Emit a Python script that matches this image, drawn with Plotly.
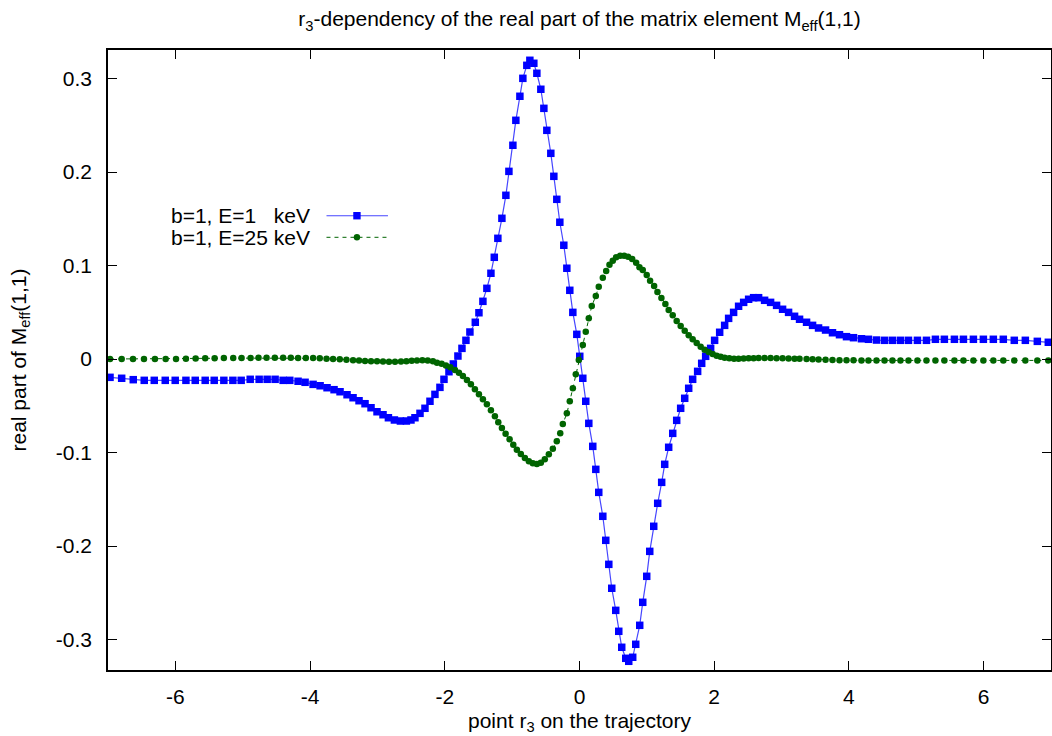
import plotly.graph_objects as go

# ---- data ----
r3_blue = [-6.970, -6.797, -6.625, -6.462, -6.313, -6.150, -6.002, -5.843, -5.705, -5.557,
           -5.423, -5.280, -5.146, -5.023, -4.889, -4.756, -4.637, -4.519, -4.400, -4.301,
           -4.178, -4.074, -3.955, -3.851, -3.748, -3.644, -3.555, -3.451, -3.362, -3.273,
           -3.184, -3.095, -3.006, -2.917, -2.837, -2.748, -2.659, -2.570, -2.502, -2.443,
           -2.368, -2.294, -2.220, -2.146, -2.072, -2.012, -1.938, -1.873, -1.805, -1.745,
           -1.686, -1.627, -1.547, -1.493, -1.434, -1.375, -1.315, -1.265, -1.212, -1.152,
           -1.093, -1.048, -0.989, -0.945, -0.885, -0.841, -0.782, -0.737, -0.678, -0.633,
           -0.574, -0.529, -0.485, -0.426, -0.381, -0.337, -0.292, -0.233, -0.188, -0.144,
           -0.099, -0.040, 0.004, 0.049, 0.093, 0.138, 0.197, 0.242, 0.286, 0.346,
           0.390, 0.435, 0.479, 0.538, 0.583, 0.627, 0.687, 0.731, 0.790, 0.835,
           0.894, 0.939, 0.998, 1.043, 1.102, 1.161, 1.220, 1.265, 1.324, 1.384,
           1.443, 1.502, 1.562, 1.621, 1.680, 1.754, 1.814, 1.873, 1.947, 2.006,
           2.081, 2.155, 2.214, 2.288, 2.362, 2.437, 2.511, 2.585, 2.659, 2.748,
           2.837, 2.926, 3.015, 3.104, 3.193, 3.267, 3.371, 3.460, 3.549, 3.653,
           3.756, 3.860, 3.964, 4.068, 4.186, 4.290, 4.409, 4.528, 4.646, 4.765,
           4.884, 5.017, 5.151, 5.284, 5.417, 5.566, 5.700, 5.848, 5.996, 6.144,
           6.292, 6.455, 6.619, 6.797, 6.960]

re_m_E1 = [-0.0196, -0.0206, -0.0221, -0.0228, -0.0228, -0.0228, -0.0228, -0.0228, -0.0228, -0.0228,
           -0.0228, -0.0228, -0.0228, -0.0228, -0.0217, -0.0217, -0.0217, -0.0217, -0.0228, -0.0228,
           -0.0238, -0.0249, -0.0271, -0.0286, -0.0307, -0.0328, -0.0350, -0.0382, -0.0414, -0.0446,
           -0.0478, -0.0521, -0.0564, -0.0596, -0.0628, -0.0652, -0.0663, -0.0663, -0.0652, -0.0628,
           -0.0581, -0.0527, -0.0452, -0.0378, -0.0303, -0.0217, -0.0136, -0.0053, 0.0032, 0.0114,
           0.0200, 0.0289, 0.0393, 0.0495, 0.0617, 0.0756, 0.0917, 0.1088, 0.1291, 0.1505,
           0.1751, 0.2007, 0.2286, 0.2553, 0.2810, 0.3002, 0.3141, 0.3195, 0.3163, 0.3056,
           0.2885, 0.2681, 0.2446, 0.2200, 0.1954, 0.1708, 0.1463, 0.1217, 0.0971, 0.0735,
           0.0499, 0.0264, 0.0029, -0.0206, -0.0452, -0.0688, -0.0934, -0.1180, -0.1426, -0.1682,
           -0.1939, -0.2196, -0.2452, -0.2688, -0.2912, -0.3083, -0.3201, -0.3233, -0.3190, -0.3051,
           -0.2848, -0.2602, -0.2324, -0.2057, -0.1789, -0.1543, -0.1319, -0.1126, -0.0944, -0.0795,
           -0.0656, -0.0527, -0.0420, -0.0313, -0.0217, -0.0132, -0.0046, 0.0029, 0.0114, 0.0200,
           0.0286, 0.0360, 0.0435, 0.0499, 0.0564, 0.0606, 0.0639, 0.0656, 0.0656, 0.0628,
           0.0606, 0.0574, 0.0532, 0.0499, 0.0457, 0.0425, 0.0393, 0.0360, 0.0332, 0.0310,
           0.0281, 0.0260, 0.0239, 0.0228, 0.0217, 0.0211, 0.0203, 0.0200, 0.0200, 0.0200,
           0.0200, 0.0200, 0.0200, 0.0211, 0.0211, 0.0211, 0.0211, 0.0211, 0.0211, 0.0211,
           0.0211, 0.0200, 0.0200, 0.0189, 0.0179]

r3_green = [-6.970, -6.797, -6.629, -6.466, -6.303, -6.144, -5.990, -5.843, -5.699, -5.557,
            -5.417, -5.280, -5.141, -5.017, -4.883, -4.765, -4.646, -4.523, -4.400, -4.286,
            -4.178, -4.063, -3.955, -3.856, -3.756, -3.659, -3.559, -3.460, -3.362, -3.273,
            -3.184, -3.095, -3.006, -2.917, -2.828, -2.739, -2.650, -2.570, -2.491, -2.413,
            -2.333, -2.254, -2.176, -2.116, -2.047, -1.983, -1.918, -1.849, -1.790, -1.731,
            -1.671, -1.612, -1.553, -1.493, -1.434, -1.375, -1.315, -1.256, -1.206, -1.152,
            -1.097, -1.038, -0.983, -0.930, -0.871, -0.811, -0.752, -0.693, -0.633, -0.574,
            -0.515, -0.455, -0.396, -0.337, -0.286, -0.248, -0.188, -0.144, -0.099, -0.055,
            -0.010, 0.049, 0.093, 0.138, 0.182, 0.242, 0.286, 0.346, 0.396, 0.445,
            0.494, 0.544, 0.604, 0.663, 0.722, 0.782, 0.841, 0.890, 0.939, 0.998,
            1.048, 1.108, 1.157, 1.216, 1.275, 1.324, 1.384, 1.443, 1.502, 1.562,
            1.621, 1.680, 1.740, 1.799, 1.858, 1.918, 1.977, 2.036, 2.095, 2.155,
            2.224, 2.294, 2.362, 2.437, 2.511, 2.585, 2.659, 2.748, 2.837, 2.926,
            3.015, 3.104, 3.193, 3.267, 3.371, 3.460, 3.549, 3.653, 3.756, 3.860,
            3.964, 4.068, 4.186, 4.290, 4.409, 4.528, 4.646, 4.765, 4.884, 5.017,
            5.151, 5.284, 5.417, 5.566, 5.700, 5.848, 5.996, 6.144, 6.292, 6.455,
            6.619, 6.797, 6.960]

re_m_E25 = [0.0000, 0.0000, 0.0000, 0.0000, 0.0000, 0.0000, 0.0000, 0.0003, 0.0005, 0.0007,
            0.0008, 0.0010, 0.0010, 0.0012, 0.0012, 0.0013, 0.0013, 0.0013, 0.0013, 0.0013,
            0.0012, 0.0012, 0.0010, 0.0007, 0.0003, 0.0000, -0.0003, -0.0007, -0.0012, -0.0016,
            -0.0020, -0.0023, -0.0025, -0.0027, -0.0028, -0.0028, -0.0026, -0.0023, -0.0019, -0.0015,
            -0.0013, -0.0016, -0.0024, -0.0039, -0.0050, -0.0068, -0.0089, -0.0118, -0.0146, -0.0182,
            -0.0225, -0.0271, -0.0324, -0.0378, -0.0431, -0.0485, -0.0549, -0.0613, -0.0677, -0.0738,
            -0.0799, -0.0859, -0.0917, -0.0970, -0.1016, -0.1059, -0.1094, -0.1116, -0.1123, -0.1109,
            -0.1073, -0.1019, -0.0959, -0.0880, -0.0795, -0.0695, -0.0581, -0.0452, -0.0313, -0.0164,
            -0.0011, 0.0150, 0.0292, 0.0435, 0.0567, 0.0674, 0.0773, 0.0870, 0.0941, 0.1009,
            0.1051, 0.1088, 0.1105, 0.1105, 0.1094, 0.1070, 0.1030, 0.0981, 0.0952, 0.0898,
            0.0837, 0.0781, 0.0717, 0.0652, 0.0588, 0.0524, 0.0467, 0.0406, 0.0353, 0.0303,
            0.0253, 0.0211, 0.0171, 0.0132, 0.0099, 0.0075, 0.0053, 0.0035, 0.0025, 0.0014,
            0.0007, 0.0003, 0.0003, 0.0005, 0.0007, 0.0009, 0.0010, 0.0010, 0.0010, 0.0009,
            0.0008, 0.0006, 0.0004, 0.0002, 0.0000, -0.0003, -0.0005, -0.0008, -0.0010, -0.0012,
            -0.0013, -0.0014, -0.0015, -0.0015, -0.0015, -0.0015, -0.0015, -0.0015, -0.0015, -0.0015,
            -0.0015, -0.0015, -0.0015, -0.0015, -0.0015, -0.0015, -0.0015, -0.0015, -0.0015, -0.0015,
            -0.0015, -0.0015, -0.0015]

series_names = ["b=1, E=1\u00a0\u00a0\u00a0keV", "b=1, E=25 keV"]

x_tickvals = [-6, -4, -2, 0, 2, 4, 6]
x_ticktext = ["-6", "-4", "-2", "0", "2", "4", "6"]
y_tickvals = [-0.3, -0.2, -0.1, 0, 0.1, 0.2, 0.3]
y_ticktext = ["-0.3", "-0.2", "-0.1", "0", "0.1", "0.2", "0.3"]

assert len(r3_blue) == len(re_m_E1), (len(r3_blue), len(re_m_E1))
assert len(r3_green) == len(re_m_E25), (len(r3_green), len(re_m_E25))

FONT = "Liberation Sans, Arial, Helvetica, sans-serif"
FS = 21
BLUE = "#0000ff"
BLUE_LINE = "rgb(70,70,255)"
GREEN = "#006400"

fig = go.Figure()
fig.add_trace(go.Scatter(
    x=r3_blue, y=re_m_E1, mode="lines+markers", name=series_names[0],
    line=dict(color=BLUE_LINE, width=1.2),
    marker=dict(symbol="square", size=7.5, color=BLUE, line=dict(width=0)),
))
fig.add_trace(go.Scatter(
    x=r3_green, y=re_m_E25, mode="lines+markers", name=series_names[1],
    line=dict(color=GREEN, width=1, dash="4px,4px"),
    marker=dict(symbol="circle", size=6.5, color=GREEN, line=dict(width=0)),
))

# gnuplot-style key: text right-aligned, sample to the right
key_text_x = 0.2161
key_line_x0, key_line_x1, key_mark_x = 0.2317, 0.2969, 0.2640
key_rows = [0.7327, 0.6979]
annotations = []
shapes = []
for i, name in enumerate(series_names):
    annotations.append(dict(text=name, x=key_text_x, y=key_rows[i], xref="paper", yref="paper",
                            xanchor="right", yanchor="middle", showarrow=False,
                            font=dict(family=FONT, size=FS, color="black")))
for i, (col, dash, w) in enumerate([(BLUE_LINE, "solid", 1.2), (GREEN, "4px,4px", 1)]):
    shapes.append(dict(type="line", xref="paper", yref="paper", x0=key_line_x0, x1=key_line_x1,
                       y0=key_rows[i], y1=key_rows[i], line=dict(color=col, width=w, dash=dash)))
shapes.append(dict(type="rect", xref="paper", yref="paper", xsizemode="pixel", ysizemode="pixel",
                   xanchor=key_mark_x, yanchor=key_rows[0], x0=-3.7, x1=3.7, y0=-3.7, y1=3.7,
                   fillcolor=BLUE, line=dict(width=0)))
shapes.append(dict(type="circle", xref="paper", yref="paper", xsizemode="pixel", ysizemode="pixel",
                   xanchor=key_mark_x, yanchor=key_rows[1], x0=-3.2, x1=3.2, y0=-3.2, y1=3.2,
                   fillcolor=GREEN, line=dict(width=0)))

axis_common = dict(ticks="inside", ticklen=9, tickwidth=1, tickcolor="black",
                   showline=True, linecolor="black", linewidth=1.5, mirror="allticks",
                   showgrid=False, zeroline=False, automargin=False,
                   tickfont=dict(family=FONT, size=FS, color="black"))

fig.update_layout(
    width=1052, height=736,
    margin=dict(l=108, r=1, t=50, b=66),
    plot_bgcolor="white", paper_bgcolor="white",
    showlegend=False,
    font=dict(family=FONT, size=FS, color="black"),
    title=dict(text="r<sub>3</sub>-dependency of the real part of the matrix element M<sub>eff</sub>(1,1)",
               x=0.5, xref="paper", xanchor="center", y=1 - 19 / 736, yref="container",
               yanchor="middle", automargin=False,
               font=dict(family=FONT, size=FS, color="black")),
    xaxis=dict(range=[-7, 7], tickvals=x_tickvals, ticktext=x_ticktext,
               title=dict(text="point r<sub>3</sub> on the trajectory", standoff=6,
                          font=dict(family=FONT, size=FS, color="black")),
               ticklabelstandoff=7, **axis_common),
    yaxis=dict(range=[-0.3326, 0.3305], tickvals=y_tickvals, ticktext=y_ticktext,
               title=dict(text="real part of M<sub>eff</sub>(1,1)", standoff=24,
                          font=dict(family=FONT, size=FS, color="black")),
               ticklabelstandoff=10, **axis_common),
    annotations=annotations,
    shapes=shapes,
)

fig.write_html("out.html", config={"displayModeBar": False},
               post_script="document.body.style.margin='0px';document.body.style.padding='0px';")
